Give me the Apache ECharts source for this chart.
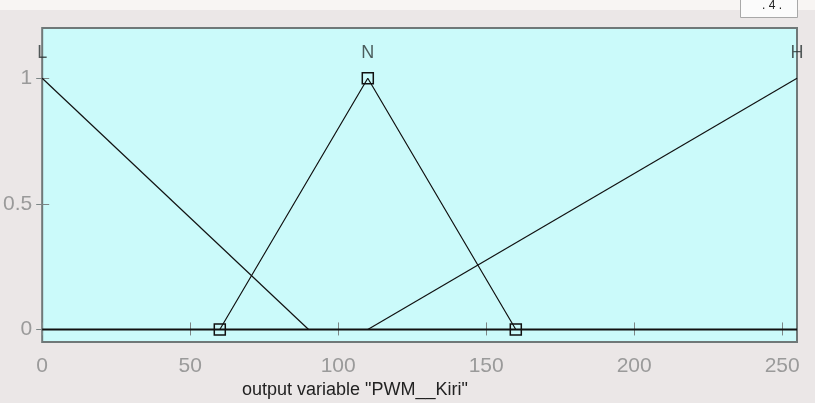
<!DOCTYPE html>
<html>
  <head>
    <meta charset="utf-8" />
    <title>PWM__Kiri membership functions</title>
    <style>
      html, body { margin: 0; padding: 0; background: #ebe7e7; }
    </style>
  </head>
  <body>
    <script src="https://cdn.jsdelivr.net/npm/echarts@6/dist/echarts.min.js"></script>

    <div id="container" style="width: 815px;height: 403px;"></div>

    <script type="text/javascript">
    // membership functions of output variable PWM__Kiri
    var xTicks = [0, 50, 100, 150, 200, 250];
    var yTicks = [0, 0.5, 1];
    var mfL = [[0, 1], [90, 0]];
    var mfN = [[60, 0], [110, 1], [160, 0]];
    var mfH = [[110, 0], [255, 1]];
    var baseLine = [[0, 0], [255, 0]];
    var mfNames = [[0, 1.1, 'L'], [110, 1.1, 'N'], [255, 1.1, 'H']];

    var myChart = echarts.init(document.getElementById('container'));
    var lineStyle = { color: '#111', width: 1.2 };
    var option = {
      backgroundColor: '#ebe7e7',
      animation: false,
      title: {
        text: 'output variable "PWM__Kiri"',
        left: 237,
        top: 376,
        textStyle: { fontFamily: 'Liberation Sans', fontSize: 18, fontWeight: 'normal', color: '#222' }
      },
      grid: {
        left: 41, right: 18, top: 28, bottom: 61,
        show: true,
        backgroundColor: '#cbfafa',
        borderColor: '#6f7878',
        borderWidth: 2
      },
      xAxis: [
        {
          type: 'value', min: 0, max: 255, position: 'bottom',
          splitLine: { show: false },
          axisLine: { show: false },
          axisTick: { inside: true, length: 7, customValues: xTicks, lineStyle: { color: '#7c8686' } },
          axisLabel: { customValues: xTicks, margin: 14, fontFamily: 'Liberation Sans', fontSize: 21, color: '#9a9a9a' }
        },
        {
          type: 'value', min: 0, max: 255, position: 'top',
          splitLine: { show: false },
          axisLine: { show: false },
          axisTick: { inside: true, length: 6, customValues: xTicks, lineStyle: { color: '#7c8686' } },
          axisLabel: { show: false }
        }
      ],
      yAxis: [
        {
          type: 'value', min: -0.05, max: 1.2, position: 'left',
          splitLine: { show: false },
          axisLine: { show: false },
          axisTick: { inside: true, length: 7, customValues: yTicks, lineStyle: { color: '#7c8686' } },
          axisLabel: { customValues: yTicks, margin: 10, fontFamily: 'Liberation Sans', fontSize: 21, color: '#9a9a9a' }
        },
        {
          type: 'value', min: -0.05, max: 1.2, position: 'right',
          splitLine: { show: false },
          axisLine: { show: false },
          axisTick: { inside: true, length: 6, customValues: yTicks, lineStyle: { color: '#7c8686' } },
          axisLabel: { show: false }
        }
      ],
      graphic: [
        { type: 'rect', left: 0, top: 0, shape: { width: 815, height: 10 }, style: { fill: '#f8f5f3' }, z: -1 },
        { type: 'rect', left: 740, top: -2, shape: { width: 57, height: 19 }, style: { fill: '#fbfbfb', stroke: '#a8a8a8', lineWidth: 1 } },
        { type: 'text', left: 762, top: 0, style: { text: '. 4 .', fontFamily: 'Liberation Sans', fontSize: 12, fill: '#222' } }
      ],
      series: [
        {
          type: 'line', data: baseLine, symbol: 'none',
          lineStyle: { color: '#111', width: 2 }, z: 2
        },
        { type: 'line', data: mfL, symbol: 'none', lineStyle: lineStyle },
        { type: 'line', data: mfH, symbol: 'none', lineStyle: lineStyle },
        {
          type: 'line', data: mfN, symbol: 'rect', symbolSize: 11, showAllSymbol: true,
          itemStyle: { color: 'rgba(0,0,0,0)', borderColor: '#111', borderWidth: 1.5 },
          lineStyle: lineStyle, z: 3
        },
        {
          type: 'scatter', data: mfNames, symbolSize: 0,
          label: {
            show: true, position: 'inside',
            formatter: function (p) { return p.value[2]; },
            fontFamily: 'Liberation Sans', fontSize: 18, color: '#2a3535'
          }
        }
      ]
    };
    myChart.setOption(option);

    window.addEventListener('resize', myChart.resize);
    </script>
  </body>
</html>
